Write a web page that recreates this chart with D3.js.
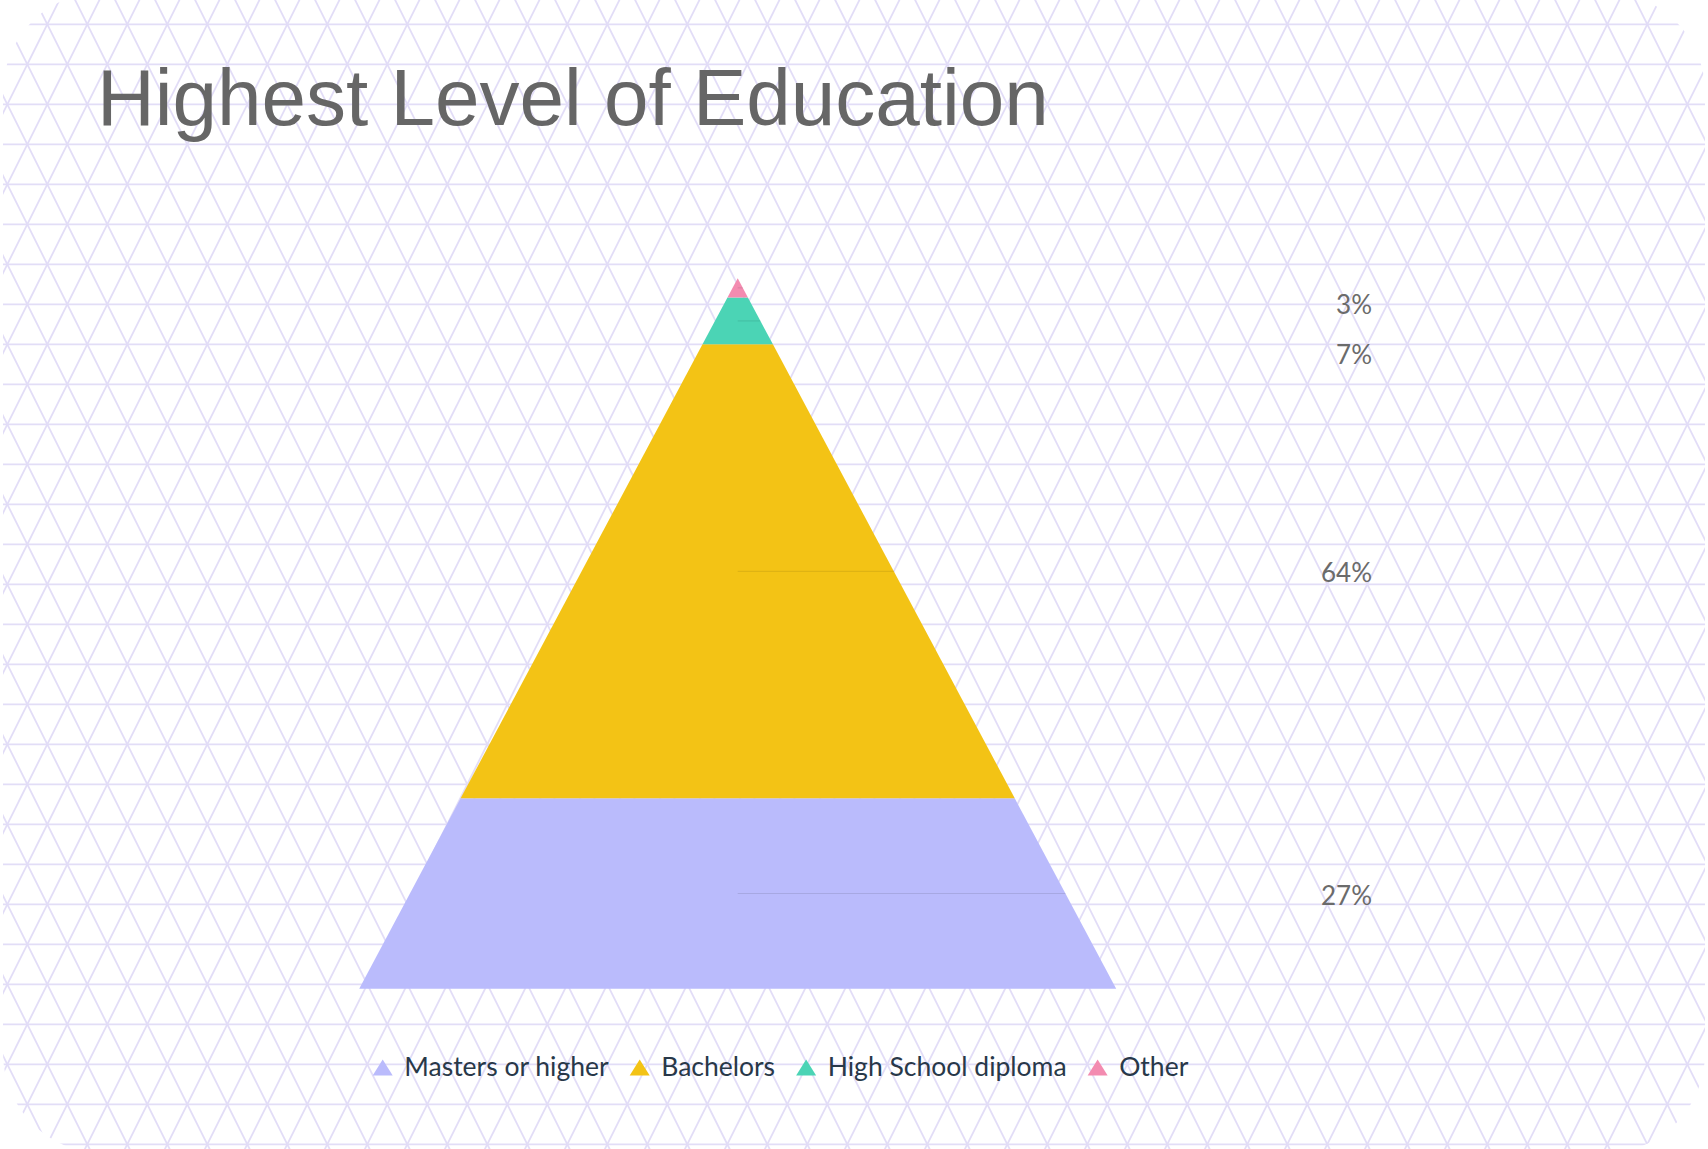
<!DOCTYPE html>
<html>
<head>
<meta charset="utf-8">
<script src="https://cdn.jsdelivr.net/npm/d3@7"></script>
<style>
  body { margin: 0; background: #fff; }
  svg { display: block; }
</style>
</head>
<body>
<div id="chart"></div>
<script>
// data, bottom slice first
var categories = ["Masters or higher", "Bachelors", "High School diploma", "Other"];
var shares = [26.8, 63.9, 6.6, 2.7];
var sliceColors = ["#babbfc", "#f3c315", "#4bd4b5", "#f38bb0"];
var chartTitle = "Highest Level of Education";

var W = 1708, H = 1149;

var svg = d3.select("#chart").append("svg")
  .attr("width", W)
  .attr("height", H);

// triangle grid background
var defs = svg.append("defs");
defs.append("clipPath").attr("id", "bgclip")
  .append("rect")
  .attr("x", 3).attr("y", -8)
  .attr("width", 1702).attr("height", 1161)
  .attr("rx", 100).attr("ry", 100);

var grid = svg.append("g").attr("clip-path", "url(#bgclip)")
  .attr("stroke", "#e2ddf7")
  .attr("stroke-width", 1.8)
  .attr("fill", "none");

var gy0 = 24.3, gx0 = 7.3, step = 40;
grid.selectAll("line.h")
  .data(d3.range(-1, 30))
  .enter().append("line")
  .attr("x1", 0).attr("x2", W)
  .attr("y1", k => gy0 + k * step)
  .attr("y2", k => gy0 + k * step);

var diag = d3.range(-40, 80);
grid.selectAll("line.dr")
  .data(diag)
  .enter().append("line")
  .attr("x1", m => gx0 + 40 * m + 0.5 * (-100 - gy0)).attr("y1", -100)
  .attr("x2", m => gx0 + 40 * m + 0.5 * (1300 - gy0)).attr("y2", 1300);
grid.selectAll("line.dl")
  .data(diag)
  .enter().append("line")
  .attr("x1", m => gx0 + 40 * m - 0.5 * (-100 - gy0)).attr("y1", -100)
  .attr("x2", m => gx0 + 40 * m - 0.5 * (1300 - gy0)).attr("y2", 1300);

// title
svg.append("text")
  .attr("x", 97)
  .attr("y", 125)
  .attr("font-family", "'Liberation Sans', Arial, sans-serif")
  .attr("font-size", 80)
  .attr("fill", "#666666")
  .text(chartTitle);

// pyramid
var apexY = 278.3, baseY = 988.7, cx = 737.7, halfBase = 378.5;
var total = d3.sum(shares);
var yScale = d3.scaleLinear().domain([0, total]).range([baseY, apexY]);
var halfW = d3.scaleLinear().domain([apexY, baseY]).range([0, halfBase]);

var cum = 0;
var slices = shares.map(function(v, i) {
  var s = {name: categories[i], value: v, color: sliceColors[i], y0: yScale(cum), y1: yScale(cum + v)};
  cum += v;
  s.mid = (s.y0 + s.y1) / 2;
  return s;
});

var pyr = svg.append("g");
pyr.selectAll("path.slice")
  .data(slices)
  .enter().append("path")
  .attr("class", "slice")
  .attr("fill", d => d.color)
  .attr("d", function(d) {
    var b = halfW(d.y0), t = halfW(d.y1);
    return "M" + (cx - b) + "," + d.y0 + "L" + (cx + b) + "," + d.y0 +
      "L" + (cx + t) + "," + d.y1 + "L" + (cx - t) + "," + d.y1 + "Z";
  });

// ticks, only visible inside the slice
pyr.selectAll("line.tick")
  .data(slices)
  .enter().append("line")
  .attr("x1", cx)
  .attr("x2", d => cx + halfW(d.mid))
  .attr("y1", d => d.mid)
  .attr("y2", d => d.mid)
  .attr("stroke", "#000")
  .attr("stroke-opacity", 0.1)
  .attr("stroke-width", 1);

// labels, pushed down so they don't overlap
var byTop = slices.slice().sort((a, b) => a.mid - b.mid);
var prev = apexY + 25 - 50;
byTop.forEach(function(s) {
  s.ly = Math.max(s.mid, prev + 50);
  prev = s.ly;
});

svg.selectAll("text.pct")
  .data(slices)
  .enter().append("text")
  .attr("class", "pct")
  .attr("x", 1372)
  .attr("y", d => d.ly + 11)
  .attr("text-anchor", "end")
  .attr("font-family", "Lato, sans-serif")
  .attr("font-size", 26)
  .attr("fill", "#6b6b6b")
  .text(d => Math.round(d.value) + "%");

// legend
var legend = svg.append("g");
var lx = 372.7, markerW = 20, markerH = 16, legBase = 1075.5;
categories.forEach(function(name, i) {
  var item = legend.append("g");
  item.append("path")
    .attr("fill", sliceColors[i])
    .attr("d", "M" + lx + "," + legBase + "L" + (lx + markerW) + "," + legBase +
      "L" + (lx + markerW / 2) + "," + (legBase - markerH) + "Z");
  var t = item.append("text")
    .attr("x", lx + markerW + 11.6)
    .attr("y", legBase)
    .attr("font-family", "Lato, sans-serif")
    .attr("font-size", 26.5)
    .attr("fill", "#283849")
    .text(name);
  lx = lx + markerW + 11.6 + t.node().getComputedTextLength() + 21;
});
</script>
</body>
</html>
